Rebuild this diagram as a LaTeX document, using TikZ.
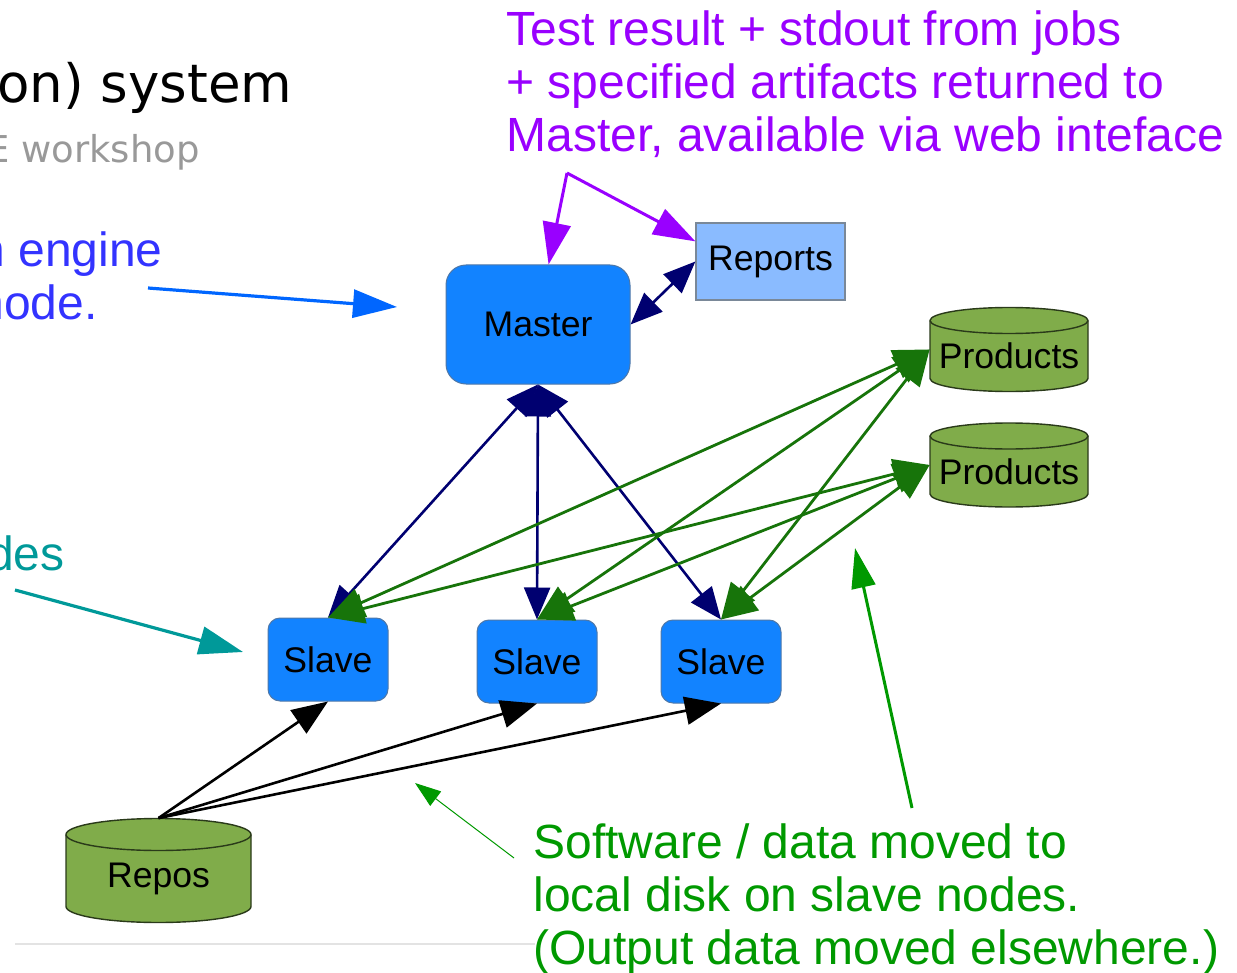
\documentclass[tikz,border=0pt]{standalone}
\usepackage{fontspec}
\setmainfont{Liberation Sans}
\newfontfamily\djv{DejaVu Sans}
\usetikzlibrary{arrows.meta,calc}
\definecolor{nodeblue}{HTML}{1283FF}
\definecolor{boxline}{HTML}{4F78A8}
\definecolor{repfill}{HTML}{8ABBFF}
\definecolor{repline}{HTML}{7A8898}
\definecolor{dbfill}{HTML}{80AC4A}
\definecolor{dbline}{HTML}{2A3A1A}
\definecolor{navy}{HTML}{000070}
\definecolor{edgegreen}{HTML}{17740A}
\definecolor{purp}{HTML}{9900FF}
\definecolor{txtblue}{HTML}{3333FF}
\definecolor{arrblue}{HTML}{0066FF}
\definecolor{teal9}{HTML}{009999}
\definecolor{grn}{HTML}{009900}
\definecolor{gray9}{HTML}{999999}
\newcommand\dbcyl[7]{%
  \begin{scope}[shift={(#2,#3)}]
    \path[fill=dbfill,draw=dbline,line width=0.7pt]
      (-#4pt,#5pt-#6pt) -- (-#4pt,-#5pt+#6pt)
      arc[start angle=180,end angle=360,x radius=#4pt,y radius=#6pt]
      -- (#4pt,#5pt-#6pt)
      arc[start angle=0,end angle=180,x radius=#4pt,y radius=#6pt] -- cycle;
    \draw[dbline,line width=0.7pt] (-#4pt,#5pt-#6pt)
      arc[start angle=180,end angle=360,x radius=#4pt,y radius=#6pt];
  \end{scope}
  \node[inner sep=0,minimum width=2*#4pt,minimum height=2*#5pt] (#1) at (#2,#3) {};
  \node[lbl] (#1-t) at ($(#1.center)+(0pt,-0.5*#6pt)$) {#7};
}
\begin{document}
\begin{tikzpicture}[x=0.5pt,y=-0.5pt,
  lbl/.style={inner sep=0,font=\fontsize{17.8}{20}\selectfont},
  box/.style={draw=boxline,line width=0.5pt,fill=nodeblue,rounded corners=10pt,inner sep=0,font=\fontsize{17.8}{20}\selectfont},
  slavebox/.style={box,rounded corners=6pt,minimum width=60pt,minimum height=41.5pt},
  repbox/.style={draw=repline,line width=0.6pt,fill=repfill,inner sep=0,minimum width=74.5pt,minimum height=38.5pt,font=\fontsize{17.8}{20}\selectfont},
  navyline/.style={draw=navy,line width=1.3pt,arrows={Triangle[length=16pt,width=13pt]-Triangle[length=16pt,width=13pt]}},
  greenline/.style={draw=edgegreen,line width=1.4pt,arrows={Triangle[length=18pt,width=15pt]-Triangle[length=18pt,width=15pt]}},
  blackline/.style={draw=black,line width=1.3pt,arrows={-Triangle[length=18pt,width=14pt]}},
  purpline/.style={draw=purp,line width=1.5pt,arrows={-Triangle[length=21pt,width=14pt]}},
  txt/.style={inner sep=0,font=\fontsize{24}{26}\selectfont},
]
\useasboundingbox (0,0) rectangle (1237,973);
\clip (0,0) rectangle (1237,973);

% separator line
\draw[gray!22,line width=0.6pt] (15,944) -- (535,944);

% title fragments
\node[anchor=base east,inner sep=0,font=\djv\fontsize{26.5}{30}\selectfont] (title) at (293,103) {on) system};
\node[anchor=base east,inner sep=0,text=gray9,font=\djv\fontsize{18.5}{22}\selectfont] (subtitle) at (200,163) {E workshop};

% left annotations
\node[txt,anchor=base east,text=txtblue] (eng1) at (163,267) {n engine};
\node[txt,anchor=base east,text=txtblue] (eng2) at (98,320) {node.};
\node[txt,anchor=base east,text=teal9] (des) at (65,570) {des};

% purple annotation
\node[txt,anchor=base west,text=purp] (p1) at (506,46) {Test result + stdout from jobs};
\node[txt,anchor=base west,text=purp] (p2) at (506,99) {+ specified artifacts returned to};
\node[txt,anchor=base west,text=purp] (p3) at (506,152) {Master, available via web inteface};

% green annotation
\node[txt,anchor=base west,text=grn] (g1) at (533,858) {Software / data moved to};
\node[txt,anchor=base west,text=grn] (g2) at (533,911) {local disk on slave nodes.};
\node[txt,anchor=base west,text=grn] (g3) at (533,964) {(Output data moved elsewhere.)};

% nodes
\node[box,minimum width=92pt,minimum height=59.5pt] (master) at (538,324.5) {Master};
\node[repbox] (reports) at (770.5,261.5) {Reports};
\node[slavebox] (slave1) at (328,659.5) {Slave};
\node[slavebox] (slave2) at (537,661.5) {Slave};
\node[slavebox] (slave3) at (721,661.5) {Slave};
\dbcyl{prod1}{1009}{349.5}{39.5}{21}{6.5}{Products}
\dbcyl{prod2}{1009}{465}{39.5}{21}{6.5}{Products}
\dbcyl{repos}{158.5}{870.5}{46.25}{26}{8}{Repos}

% master <-> reports
\draw[navyline] (master.east) -- (reports.west);
% master <-> slaves
\draw[navyline] (master.south) -- (slave1.north);
\draw[navyline] (master.south) -- (slave2.north);
\draw[navyline] (master.south) -- (slave3.north);
% products <-> slaves
\foreach \p in {prod1,prod2}{
  \foreach \s in {slave1,slave2,slave3}{
    \draw[greenline] (\p.west) -- (\s.north);
  }
}
% repos -> slaves
\draw[blackline] (repos.north) -- (slave1.south);
\draw[blackline] (repos.north) -- (slave2.south);
\draw[blackline] (repos.north) -- (slave3.south);

% purple arrows
\coordinate (pcorner) at (567,173);
\draw[purpline] (pcorner) -- (master.80);
\draw[purpline] (pcorner) -- (reports.165);

% annotation arrows
\coordinate (blueA) at (148,288);
\coordinate (blueB) at (397,307);
\draw[arrblue,line width=1.6pt,arrows={-Triangle[length=22pt,width=14pt]}] (blueA) -- (blueB);
\coordinate (tealA) at (15,590);
\coordinate (tealB) at (243,652);
\draw[teal9,line width=1.6pt,arrows={-Triangle[length=22pt,width=14pt]}] (tealA) -- (tealB);
\coordinate (thinA) at (514,858);
\coordinate (thinB) at (415,783);
\draw[grn,line width=0.5pt,arrows={-Triangle[length=13pt,width=9pt]}] (thinA) -- (thinB);
\coordinate (bigA) at (912,808);
\coordinate (bigB) at (855,548);
\draw[grn,line width=1.5pt,arrows={-Triangle[length=20pt,width=12pt]}] (bigA) -- (bigB);
\end{tikzpicture}
\end{document}
